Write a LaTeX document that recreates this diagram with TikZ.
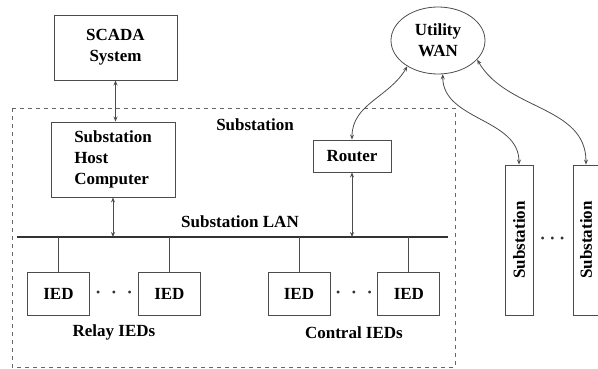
\documentclass[tikz,border=0pt]{standalone}
\usepackage{fontspec}
\setmainfont{Liberation Serif}
\usetikzlibrary{positioning,shapes.geometric,arrows.meta,calc}

\newcommand{\threedots}[1]{\textbullet\hspace{#1}\textbullet\hspace{#1}\textbullet}

\tikzset{
	box/.style={draw=black!70, line width=0.9pt, inner sep=1pt, font=\bfseries\fontsize{17}{21}\selectfont},
	ied/.style={box, minimum width=62pt, minimum height=43pt},
	subbox/.style={box, minimum width=150pt, minimum height=28pt, font=\bfseries\fontsize{17}{17}\selectfont},
	lbl/.style={font=\bfseries\fontsize{17}{17}\selectfont},
	link/.style={draw=black!70, line width=0.8pt, {Stealth[length=5pt,width=4pt]}-{Stealth[length=5pt,width=4pt]}},
	drop/.style={draw=black!70, line width=0.9pt},
	dots/.style={text=black!80, font=\fontsize{12}{12}\selectfont},
}

\begin{document}
\begin{tikzpicture}[x=1pt, y=1pt]
	\useasboundingbox (0,0) rectangle (598,-369);
	\draw[black!60, line width=0.8pt, dash pattern=on 4pt off 4pt] (12,-108) rectangle (455,-367);
	\node[box, minimum width=123pt, minimum height=65pt, align=center] (scada) at (115.5,-47.5) {SCADA\\System};
	\node[box, minimum width=124pt, minimum height=75pt, align=left] (host) at (113,-159.5) {Substation\\Host\\Computer};
	\node[box, minimum width=78pt, minimum height=32pt] (router) at (352,-156) {Router};
	\node[draw=black!70, line width=0.8pt, ellipse, inner sep=0pt, minimum width=94pt, minimum height=67pt, align=center, font=\bfseries\fontsize{17}{21}\selectfont] (wan) at (438,-40.5) {Utility\\WAN};
	\node[lbl] (sublbl) at (255,-125) {Substation};
	\node[lbl] (lanlbl) at (240,-222) {Substation LAN};
	\coordinate (lanL) at (17,-237);
	\coordinate (lanR) at (448,-237);
	\node[ied] (ied1) at (58.5,-293.5) {IED};
	\node[ied, right = 48pt of ied1] (ied2) {IED};
	\node[ied] (ied3) at (299,-293.5) {IED};
	\node[ied, right = 47pt of ied3] (ied4) {IED};
	\node[dots] (dots1) at ($(ied1)!0.5!(ied2)$) {\threedots{11.5pt}};
	\node[dots] (dots2) at ($(ied3)!0.5!(ied4)$) {\threedots{11.5pt}};
	\node[lbl] (relay) at ($(dots1)+(0,-39)$) {Relay IEDs};
	\node[lbl] (control) at ($(dots2)+(0,-39)$) {Contral IEDs};
	\node[subbox, rotate=90] (sub1) at (519,-240) {Substation};
	\node[subbox, rotate=90, minimum height=26pt] (sub2) at (586,-240) {Substation};
	\node[dots] (dots3) at ($(sub1)!0.5!(sub2)$) {\threedots{5.5pt}};
	\draw[black!80, line width=1.8pt] (lanL) -- (lanR);
	\draw[link] (scada.south) -- (scada.south |- host.north);
	\draw[link] (host.south) -- (host.south |- lanL);
	\draw[link] (router.south) -- (router.south |- lanL);
	\draw[drop] (ied1.north) -- (ied1.north |- lanL);
	\draw[drop] (ied2.north) -- (ied2.north |- lanL);
	\draw[drop] (ied3.north) -- (ied3.north |- lanL);
	\draw[drop] (ied4.north) -- (ied4.north |- lanL);
	\draw[link] (wan.220) to[out=240, in=90] (router.north);
	\draw[link] (wan.278) to[out=270, in=90] (sub1.east);
	\draw[link] (wan.334) to[out=300, in=90] (sub2.east);
\end{tikzpicture}
\end{document}
